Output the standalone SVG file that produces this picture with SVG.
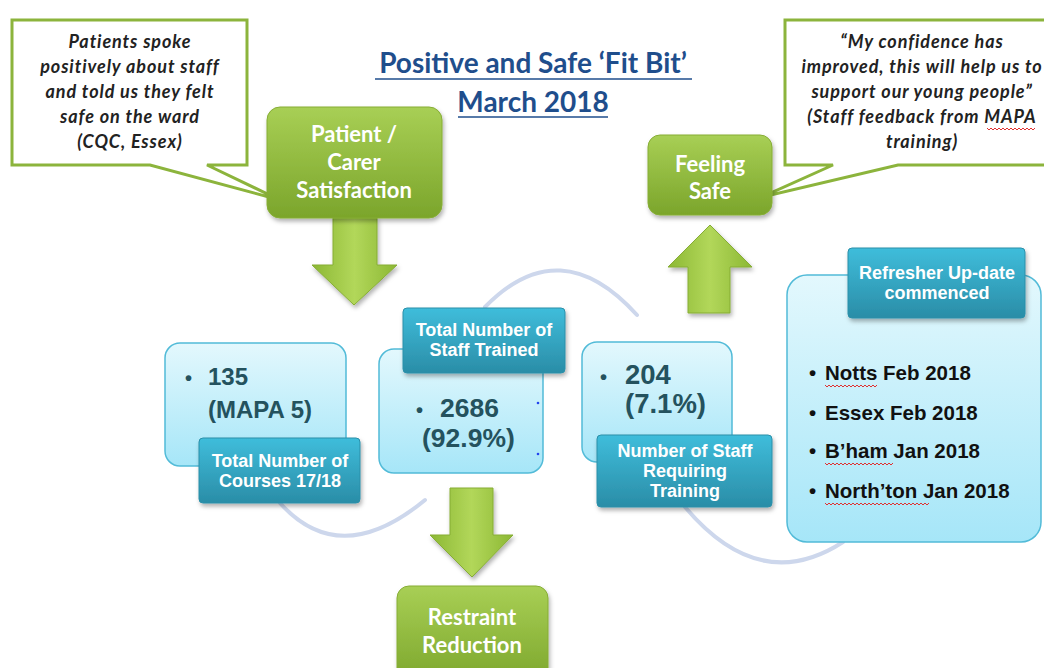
<svg xmlns="http://www.w3.org/2000/svg" width="1044" height="668" viewBox="0 0 1044 668">
<defs>
<linearGradient id="gGreen" x1="0" y1="0" x2="0" y2="1">
<stop offset="0" stop-color="#a8cf55"/><stop offset="1" stop-color="#7ba52b"/>
</linearGradient>
<linearGradient id="gArrow" x1="0" y1="0" x2="1" y2="0">
<stop offset="0" stop-color="#8cb834"/><stop offset="0.5" stop-color="#b2d75a"/><stop offset="1" stop-color="#8cb834"/>
</linearGradient>
<linearGradient id="gLight" x1="0" y1="0" x2="0" y2="1">
<stop offset="0" stop-color="#e3f8fd"/><stop offset="1" stop-color="#a6e6f8"/>
</linearGradient>
<linearGradient id="gDark" x1="0" y1="0" x2="0" y2="1">
<stop offset="0" stop-color="#3fbddb"/><stop offset="1" stop-color="#2a8da7"/>
</linearGradient>
<filter id="sh" x="-10%" y="-10%" width="130%" height="140%">
<feDropShadow dx="1.5" dy="3" stdDeviation="2" flood-color="#000" flood-opacity="0.3"/>
</filter>
</defs>
<style>
.callout{fill:#fff;stroke:#8cb43c;stroke-width:3}
.ct{font-family:Lato,"Open Sans",sans-serif;font-weight:bold;font-style:italic;font-size:18px;letter-spacing:0.9px;fill:#222;text-anchor:middle}
.gbox{fill:url(#gGreen);stroke:#86ad35;stroke-width:1;filter:url(#sh)}
.gt{font-family:Lato,"Open Sans",sans-serif;font-weight:bold;font-size:22px;fill:#fff;text-anchor:middle}
.lbox{fill:url(#gLight);stroke:#52bbd8;stroke-width:1.5}
.dbox{fill:url(#gDark);stroke:#2a8fa9;stroke-width:1;filter:url(#sh)}
.dt{font-family:"Liberation Sans",Arial,sans-serif;font-weight:bold;font-size:18px;fill:#fff;text-anchor:middle}
.vt{font-family:"Liberation Sans",Arial,sans-serif;font-weight:bold;fill:#24525e}
.lt{font-family:"Liberation Sans",Arial,sans-serif;font-weight:bold;font-size:20.5px;fill:#111}
.arc{fill:none;stroke:#cdd7ec;stroke-width:4;stroke-linecap:round}
.arrow{fill:url(#gArrow);stroke:#86ad35;stroke-width:1;filter:url(#sh)}
.wavy{fill:none;stroke:#e03030;stroke-width:1}
.title{font-family:Lato,"Open Sans",sans-serif;font-weight:bold;font-size:28px;fill:#1f4e8c;text-anchor:middle}
</style>
<rect width="1044" height="668" fill="#fff"/>

<g id="title">
<text class="title" x="533" y="73">Positive and Safe ‘Fit Bit’</text>
<line x1="375" y1="79" x2="692" y2="79" stroke="#1f4e8c" stroke-width="1.5"/>
<text class="title" x="533" y="112">March 2018</text>
<line x1="458" y1="117" x2="608" y2="117" stroke="#1f4e8c" stroke-width="1.5"/>
</g>

<g id="connectors">
<path class="arc" d="M280,503 Q340,570 425,500"/>
<path class="arc" d="M485,307 Q560,230 637,315"/>
<path class="arc" d="M685,507 Q760,596 843,542"/>
<path class="arrow" d="M333,218 H377 V265 H397 L354,305 L312,265 H333 Z"/>
<path class="arrow" d="M710,225 L752,267 H730 V313 H688 V267 H668 Z"/>
<path class="arrow" d="M450,488 H493 V535 H513 L472,577 L430,535 H450 Z"/>
</g>

<g id="callout-left">
<path class="callout" d="M12,20 H247 V165 H207 L280,200 L150,165 H12 Z"/>
<text class="ct" x="130" y="48">Patients spoke</text>
<text class="ct" x="130" y="73">positively about staff</text>
<text class="ct" x="130" y="98">and told us they felt</text>
<text class="ct" x="130" y="123">safe on the ward</text>
<text class="ct" x="130" y="148">(CQC, Essex)</text>
</g>

<g id="callout-right">
<path class="callout" d="M785,20 H1052 V165 H898 L762,197 L833,165 H785 Z"/>
<text class="ct" x="922" y="48">“My confidence has</text>
<text class="ct" x="922" y="73">improved, this will help us to</text>
<text class="ct" x="922" y="98">support our young people”</text>
<text class="ct" x="922" y="123">(Staff feedback from MAPA</text>
<text class="ct" x="922" y="148">training)</text>
<path class="wavy" d="M987,128 l2,2 l2,-2 l2,2 l2,-2 l2,2 l2,-2 l2,2 l2,-2 l2,2 l2,-2 l2,2 l2,-2 l2,2 l2,-2 l2,2 l2,-2 l2,2 l2,-2 l2,2 l2,-2 l2,2 l2,-2 l2,2 l2,-2"/>
</g>

<g id="patient-carer">
<rect class="gbox" x="267" y="107" width="175" height="111" rx="13"/>
<text class="gt" x="354" y="142">Patient /</text>
<text class="gt" x="354" y="170">Carer</text>
<text class="gt" x="354" y="198">Satisfaction</text>
</g>

<g id="feeling-safe">
<rect class="gbox" x="648" y="135" width="124" height="80" rx="12"/>
<text class="gt" x="710" y="172">Feeling</text>
<text class="gt" x="710" y="199">Safe</text>
</g>

<g id="restraint-reduction">
<rect class="gbox" x="397" y="586" width="151" height="100" rx="12"/>
<text class="gt" x="472" y="625">Restraint</text>
<text class="gt" x="472" y="653">Reduction</text>
</g>

<g id="courses">
<rect class="lbox" x="165" y="343" width="181" height="123" rx="15"/>
<text class="vt" font-size="20" x="185" y="385">•</text>
<text class="vt" font-size="24" x="208" y="385">135</text>
<text class="vt" font-size="24" x="208" y="418">(MAPA 5)</text>
<rect class="dbox" x="199" y="438" width="161" height="65" rx="4"/>
<text class="dt" x="280" y="467">Total Number of</text>
<text class="dt" x="280" y="487">Courses 17/18</text>
</g>

<g id="staff-trained">
<rect class="lbox" x="379" y="349" width="164" height="124" rx="15"/>
<text class="vt" font-size="20" x="416" y="417">•</text>
<text class="vt" font-size="26.5" x="440" y="417">2686</text>
<text class="vt" font-size="26.5" x="422" y="447">(92.9%)</text>
<circle cx="538" cy="403" r="1.3" fill="#2244ee"/>
<circle cx="538" cy="454" r="1.3" fill="#2244ee"/>
<rect class="dbox" x="403" y="308" width="162" height="65" rx="4"/>
<text class="dt" x="484" y="336">Total Number of</text>
<text class="dt" x="484" y="356">Staff Trained</text>
</g>

<g id="staff-requiring">
<rect class="lbox" x="582" y="342" width="150" height="120" rx="15"/>
<text class="vt" font-size="20" x="600" y="384">•</text>
<text class="vt" font-size="27.5" x="625" y="384">204</text>
<text class="vt" font-size="27.5" x="625" y="413">(7.1%)</text>
<rect class="dbox" x="597" y="435" width="175" height="72" rx="4"/>
<text class="dt" x="685" y="457">Number of Staff</text>
<text class="dt" x="685" y="477">Requiring</text>
<text class="dt" x="685" y="497">Training</text>
</g>

<g id="refresher">
<rect class="lbox" x="787" y="275" width="254" height="267" rx="20"/>
<rect class="dbox" x="848" y="248" width="177" height="70" rx="4"/>
<text class="dt" x="937" y="279">Refresher Up-date</text>
<text class="dt" x="937" y="299">commenced</text>
<text class="lt" font-size="17" x="809" y="380">•</text>
<text class="lt" x="825" y="380">Notts Feb 2018</text>
<text class="lt" font-size="17" x="809" y="420">•</text>
<text class="lt" x="825" y="420">Essex Feb 2018</text>
<text class="lt" font-size="17" x="809" y="458">•</text>
<text class="lt" x="825" y="458">B’ham Jan 2018</text>
<text class="lt" font-size="17" x="809" y="498">•</text>
<text class="lt" x="825" y="498">North’ton Jan 2018</text>
<path class="wavy" d="M825,385 l2,2 l2,-2 l2,2 l2,-2 l2,2 l2,-2 l2,2 l2,-2 l2,2 l2,-2 l2,2 l2,-2 l2,2 l2,-2 l2,2 l2,-2 l2,2 l2,-2 l2,2 l2,-2 l2,2 l2,-2 l2,2 l2,-2 l2,2 l2,-2"/>
<path class="wavy" d="M825,463 l2,2 l2,-2 l2,2 l2,-2 l2,2 l2,-2 l2,2 l2,-2 l2,2 l2,-2 l2,2 l2,-2 l2,2 l2,-2 l2,2 l2,-2 l2,2 l2,-2 l2,2 l2,-2 l2,2 l2,-2 l2,2 l2,-2 l2,2 l2,-2 l2,2 l2,-2 l2,2 l2,-2 l2,2 l2,-2 l2,2 l2,-2"/>
<path class="wavy" d="M825,503 l2,2 l2,-2 l2,2 l2,-2 l2,2 l2,-2 l2,2 l2,-2 l2,2 l2,-2 l2,2 l2,-2 l2,2 l2,-2 l2,2 l2,-2 l2,2 l2,-2 l2,2 l2,-2 l2,2 l2,-2 l2,2 l2,-2 l2,2 l2,-2 l2,2 l2,-2 l2,2 l2,-2 l2,2 l2,-2 l2,2 l2,-2 l2,2 l2,-2 l2,2 l2,-2 l2,2 l2,-2 l2,2 l2,-2 l2,2 l2,-2 l2,2 l2,-2 l2,2 l2,-2 l2,2 l2,-2 l2,2 l2,-2"/>
</g>
</svg>
